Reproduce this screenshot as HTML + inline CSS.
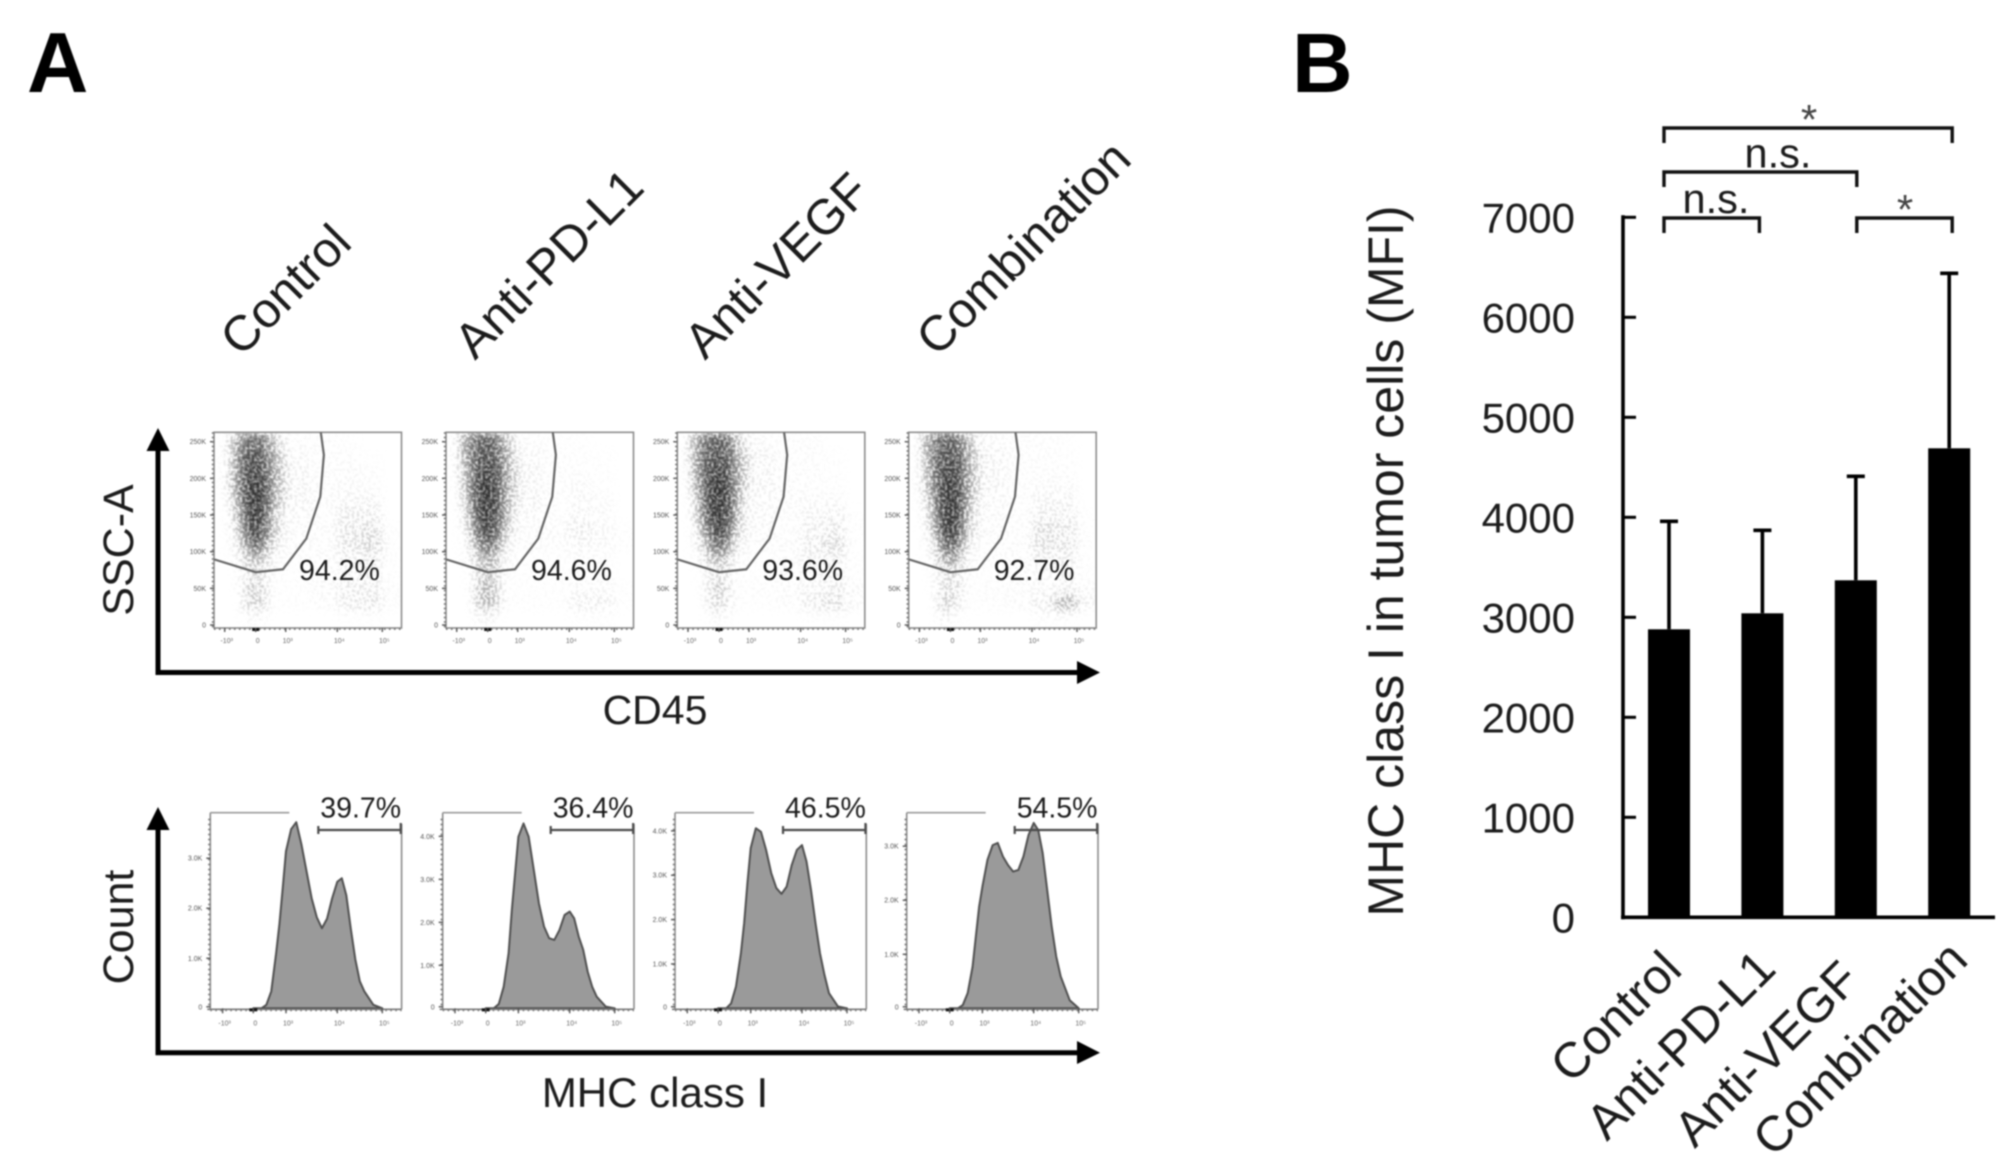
<!DOCTYPE html>
<html lang="en">
<head>
<meta charset="utf-8">
<title>MHC class I expression figure</title>
<style>
html,body{margin:0;padding:0;background:#fff;width:2014px;height:1167px;overflow:hidden}
svg{display:block;filter:blur(0.75px)}
text{font-family:"Liberation Sans",Arial,sans-serif;fill:#1c1c1c}
</style>
</head>
<body>
<svg id="figure" xmlns="http://www.w3.org/2000/svg" width="2014" height="1167" viewBox="0 0 2014 1167">
  <defs>
    <filter id="speckle1" filterUnits="userSpaceOnUse" x="0" y="400" width="1200" height="260" color-interpolation-filters="sRGB">
      <feGaussianBlur in="SourceAlpha" stdDeviation="4.5" result="dens"/>
      <feTurbulence type="fractalNoise" baseFrequency="0.42" numOctaves="1" seed="3"/>
      <feColorMatrix values="0 0 0 0 0 0 0 0 0 0 0 0 0 0 0 1.7 0 0 0 0" result="noise"/>
      <feComposite in="dens" in2="noise" operator="arithmetic" k1="0" k2="1" k3="1" k4="-1"/>
      <feGaussianBlur stdDeviation="0.5"/>
    </filter>
  </defs>
  <rect x="0" y="0" width="2014" height="1167" fill="#fff"/>

  <text x="27" y="92" font-size="85" font-weight="700" style="fill:#000">A</text>
  <text x="1292" y="92" font-size="84" font-weight="700" style="fill:#000">B</text>

  <g font-size="49.5">
    <text transform="translate(241 358) rotate(-45)">Control</text>
    <text transform="translate(475 361) rotate(-45)">Anti-PD-L1</text>
    <text transform="translate(705 361) rotate(-45)">Anti-VEGF</text>
    <text transform="translate(937 358) rotate(-45)">Combination</text>
  </g>

  <g id="scatterRow"></g>
  <g id="histRow"></g>

  <g>
    <line x1="158" y1="445" x2="158" y2="675" stroke="#000" stroke-width="5"/>
    <polygon points="158,428 146.5,451 169.5,451" fill="#000"/>
    <line x1="155.5" y1="672.5" x2="1082" y2="672.5" stroke="#000" stroke-width="5"/>
    <polygon points="1100,672.5 1077,661 1077,684" fill="#000"/>
    <text x="655" y="724" font-size="41" text-anchor="middle">CD45</text>
    <text transform="translate(133 550) rotate(-90)" font-size="43" text-anchor="middle">SSC-A</text>
  </g>
  <g>
    <line x1="158" y1="824" x2="158" y2="1055" stroke="#000" stroke-width="5"/>
    <polygon points="158,807 146.5,830 169.5,830" fill="#000"/>
    <line x1="155.5" y1="1052.7" x2="1082" y2="1052.7" stroke="#000" stroke-width="5"/>
    <polygon points="1100,1052.7 1077,1041 1077,1064" fill="#000"/>
    <text x="655" y="1107" font-size="42" text-anchor="middle">MHC class I</text>
    <text transform="translate(133 927) rotate(-90)" font-size="43" text-anchor="middle">Count</text>
  </g>

  <g id="barChart"></g>
</svg>

<script>
/* ---------- Panel A: shared labels and axes ---------- */
const treatments = ["Control", "Anti-PD-L1", "Anti-VEGF", "Combination"];
const scatterPercents = ["94.2%", "94.6%", "93.6%", "92.7%"];
const histPercents = ["39.7%", "36.4%", "46.5%", "54.5%"];
const sscTickValues = [0, 50, 100, 150, 200, 250];
const sscTickLabels = ["0", "50K", "100K", "150K", "200K", "250K"];
const decadeTickValues = [-1, 0, 1, 2, 3];
const decadeTickLabels = ["-10\u00B3", "0", "10\u00B3", "10\u2074", "10\u2075"];

/* Gate vertices: CD45 decades and SSC-A (K) */
const gateCD45 = [-1.34, 0, 0.91, 1.4, 1.67, 1.74, 1.68];
const gateSSC = [89.5, 72, 76, 118, 175, 232, 262.7];

/* Density bins */
const densityColEdges = [-1.34, -1, -0.75, -0.5, -0.25, 0, 0.25, 0.5, 0.75, 1, 1.5, 2, 2.5, 3, 3.43];
const densityRowEdges = [262.7, 240, 220, 200, 180, 160, 140, 120, 100, 80, 60, 40, 20, 0];
const densityControl = [
 [0,1.5,4,6,6.5,6.5,5,3,1.5,.4,.3,.2,0,0],
 [.1,1.5,4.5,7,7.5,7.5,6,4,2.5,.6,.3,.3,.1,0],
 [.1,1.5,4.5,7,8,8,6.5,4,3,.8,.3,.5,.3,0],
 [.1,1.5,4.5,7,8.5,8.5,7,4,3,.8,.4,.5,.3,0],
 [0,1,3.5,7,8.5,8.5,7,4,2.5,.8,.4,.8,.8,0],
 [0,.6,3,6,8.5,8.5,6,3,1.5,.6,.4,1.2,1.2,0],
 [0,.4,2,5.5,8,8,5.5,3,1.5,.4,.4,1.5,1.8,.2],
 [0,.3,1,4,6.5,6.5,4,1.8,.8,.4,.4,1.5,2.2,.2],
 [0,.2,.5,2,3.5,3.5,2,.6,.4,.3,.4,1,1.2,.2],
 [0,0,.2,1,2,2,1,.3,.2,.2,.4,.7,.8,.2],
 [0,0,.2,1.5,2.5,2.5,1.2,.2,.2,.2,.5,1.2,1.2,.3],
 [0,0,0,1.5,2.5,2.5,1.2,.2,.2,.2,.4,1.2,1.5,.3],
 [0,0,0,.3,.6,.6,.2,0,0,0,0,.2,.2,0]
];
const densityAntiPDL1 = [
 [.1,3,5,6.5,7,7,5.5,3.5,1.5,.4,.2,.2,0,0],
 [.1,2.5,5,7,7.5,7.5,6.5,4,2.5,.6,.3,.2,.2,0],
 [.1,2,4.5,7,8,8,7,4,3,.8,.3,.3,.2,0],
 [.1,1.5,4.5,7.5,8.5,8.5,7,4,3,.8,.3,.5,.2,0],
 [0,1,4,7,8.5,8.5,7,4,2.5,.8,.3,.6,.4,0],
 [0,.6,3,7,8.5,8.5,6.5,4,1.5,.6,.3,.8,.5,0],
 [0,.4,2,6,8,8,6,3,1.2,.4,.5,1.1,.6,.2],
 [0,.2,1,4,6.5,6.5,4,1.5,.6,.4,.4,.8,.5,.2],
 [0,.2,.5,2.5,4,4,2.5,.5,.4,.2,.2,.3,.3,0],
 [0,0,.2,1.5,3,3,1.5,.3,.2,.2,.2,.3,.3,0],
 [0,0,.2,2,3.5,3.5,1.8,.2,.2,.2,.2,.5,.5,.2],
 [0,0,0,2,3.5,3.5,1.8,.2,.2,.2,.2,1,1,.2],
 [0,0,0,.5,.8,.8,.2,0,0,0,0,.2,.2,0]
];
const densityAntiVEGF = [
 [.1,3,5,6.5,7,7,5.5,3,1.5,.5,.3,.3,0,0],
 [.1,3,5.5,7,7.5,7.5,6.5,4,2.5,.8,.3,.3,.2,0],
 [.1,2.5,5.5,7.5,8,8,7,4,3,.8,.3,.3,.2,0],
 [.1,2,5,7.5,8.5,8.5,7,4,2.5,.8,.5,.3,.2,0],
 [0,1,4,7.5,8.5,8.5,7,4,1.5,.6,.5,.5,.5,0],
 [0,.7,4,7,8.5,8.5,7,3,1.5,.6,.3,.8,1,.2],
 [0,.4,2.5,6,8,8,6,2.5,1.1,.5,.3,1,1.3,.2],
 [0,.2,1.5,4,6.5,6.5,4,1.5,.6,.4,.4,1.2,2,.2],
 [0,.2,.5,2.5,3.5,3.5,2,.5,.4,.2,.4,1,1.2,.2],
 [0,0,.2,.8,1.8,1.8,.8,.3,.2,.2,.4,.5,.5,.2],
 [0,0,.2,1.2,2.5,2.5,1,.2,.2,.3,.4,.8,1.2,.5],
 [0,0,0,1,2,2,1,.2,.2,.2,.4,1.2,1.8,.5],
 [0,0,0,.2,.5,.5,.2,0,0,0,0,.2,.2,0]
];
const densityCombination = [
 [.1,3,5,6.5,7,7,5.5,3.5,1.5,.5,.3,.3,.2,0],
 [.1,2.5,5,7,7.5,7.5,6.5,4,2.5,.8,.3,.3,.2,0],
 [.1,2,5,7,8,8.5,6.5,4,2.5,.8,.3,.3,.3,0],
 [.1,2,4.5,7,8.5,8.5,6.5,4,2.5,.8,.3,.5,.5,0],
 [0,1,3.5,7,8.5,8.5,7,4,1.5,.6,.3,.8,.8,0],
 [0,.6,3,7,8.5,8.5,6.5,3,1.5,.5,.3,1.1,1.1,.2],
 [0,.4,2,6,8.5,8.5,6,2.5,1.2,.5,.3,1.8,1.5,.2],
 [0,.2,1,4,7,7,4,1.5,.6,.3,.4,1.8,1.6,.2],
 [0,.2,.5,2.5,4.5,4.5,2.5,.5,.4,.3,.4,1,1.1,.2],
 [0,0,.2,1,2,2,1.1,.3,.2,.2,.4,.5,.6,.2],
 [0,0,.2,1.2,2.2,2.2,1.2,.2,.2,.3,.4,.6,1.1,.5],
 [0,0,0,1.5,2.8,1.8,.8,.2,.2,.3,.4,1.2,3.5,.9],
 [0,0,0,.5,.9,.4,.2,0,0,0,0,.3,.3,0]
];
const scatterDensities = [densityControl, densityAntiPDL1, densityAntiVEGF, densityCombination];

/* Histogram series: MHC class I decades and counts (thousands) */
const histDecades = [0, .25, .4, .55, .7, .8, .9, 1, 1.1, 1.2, 1.3, 1.4, 1.5, 1.6, 1.7, 1.8, 1.9, 2, 2.1, 2.2, 2.3, 2.4, 2.5, 2.6, 2.8, 3];
const histControl = [0, 0, .07, .34, 1.11, 1.69, 2.4, 3.14, 3.58, 3.72, 3.28, 2.74, 2.2, 1.82, 1.6, 1.79, 2.2, 2.53, 2.6, 2.26, 1.59, .98, .54, .34, .07, 0];
const histAntiPDL1 = [0, 0, .1, .5, 1.28, 2.29, 3.14, 3.99, 4.3, 3.99, 3.22, 2.44, 1.9, 1.63, 1.59, 1.82, 2.17, 2.25, 2.09, 1.67, 1.36, .85, .5, .27, .04, 0];
const histAntiVEGF = [0, 0, .11, .49, 1.24, 1.92, 2.82, 3.61, 4.06, 3.98, 3.57, 3.05, 2.71, 2.58, 2.74, 3.23, 3.57, 3.68, 3.31, 2.67, 1.92, 1.24, .75, .34, .04, 0];
const histCombination = [0, 0, .06, .28, .77, 1.33, 1.88, 2.25, 2.75, 3.02, 3.06, 2.81, 2.65, 2.53, 2.56, 2.81, 3.21, 3.43, 3.3, 2.87, 2.19, 1.51, .96, .59, .15, 0];
const histSeries = [histControl, histAntiPDL1, histAntiVEGF, histCombination];
const histYMax = [3.91, 4.55, 4.41, 3.62];
const histTickValues = [[0, 1, 2, 3], [0, 1, 2, 3, 4], [0, 1, 2, 3, 4], [0, 1, 2, 3]];
const histTickLabels = [["0", "1.0K", "2.0K", "3.0K"], ["0", "1.0K", "2.0K", "3.0K", "4.0K"], ["0", "1.0K", "2.0K", "3.0K", "4.0K"], ["0", "1.0K", "2.0K", "3.0K"]];
const histGateDecades = [1.63, 3.41];

/* ---------- Panel B data ---------- */
const barCategories = ["Control", "Anti-PD-L1", "Anti-VEGF", "Combination"];
const barMeans = [2880, 3040, 3370, 4690];
const barErrorTops = [3960, 3870, 4410, 6440];
const barYTicks = [0, 1000, 2000, 3000, 4000, 5000, 6000, 7000];
const sigLabels = ["*", "n.s.", "n.s.", "*"];

/* ---------- Helpers ---------- */
const NS = "http://www.w3.org/2000/svg";
function make(parent, tag, props, txt) {
  const e = document.createElementNS(NS, tag);
  for (const k in props) e.setAttribute(k, props[k]);
  if (txt !== undefined) e.textContent = txt;
  parent.appendChild(e);
  return e;
}
function piecewise(stops, px) {
  return function (v) {
    let i = 0;
    while (i < stops.length - 2 && v > stops[i + 1]) i++;
    return px[i] + (v - stops[i]) * (px[i + 1] - px[i]) / (stops[i + 1] - stops[i]);
  };
}
const DEC_STOPS = [-1, 0, 1, 2, 3];

/* ---------- Scatter panels ---------- */
const scatterLefts = [214, 446, 677.3, 908.7];
const SC_W = 187.5, SC_TOP = 432.3, SC_BOT = 628;
const scatterRow = document.getElementById("scatterRow");
const scatterRelX = piecewise(DEC_STOPS, [10.7, 41.7, 71.7, 123.3, 168.3]);
const sscY = v => 625 - v * 0.7332;

treatments.forEach(function (name, p) {
  const left = scatterLefts[p];
  const sx = v => left + scatterRelX(v);
  const g = make(scatterRow, "g", {});
  
  

  const clipId = "clipS" + p;
  const clip = make(g, "clipPath", { id: clipId });
  make(clip, "rect", { x: left, y: SC_TOP, width: SC_W, height: SC_BOT - SC_TOP });

  const holder = make(g, "g", { "clip-path": "url(#" + clipId + ")" });
  const dens = make(holder, "g", { filter: "url(#speckle1)" });
  
  
  scatterDensities[p].forEach(function (row, r) {
    row.forEach(function (d, c) {
      if (d <= 0) return;
      const x0 = sx(densityColEdges[c]), x1 = sx(densityColEdges[c + 1]);
      const y0 = sscY(densityRowEdges[r]), y1 = sscY(densityRowEdges[r + 1]);
      const cell = make(dens, "rect", { x: x0, y: y0, width: x1 - x0, height: y1 - y0, fill: "#000", "fill-opacity": Math.min(1, d / 10) });
      
      
    });
  });

  const frame = make(g, "rect", { x: left, y: SC_TOP, width: SC_W, height: SC_BOT - SC_TOP, fill: "none", stroke: "#8c8c8c", "stroke-width": 1.6 });
  
  

  const gate = make(g, "polyline", {
    points: gateCD45.map((v, i) => sx(v) + "," + sscY(gateSSC[i])).join(" "),
    fill: "none", stroke: "#666", "stroke-width": 2.2
  });
  
  

  sscTickValues.forEach(function (v, i) {
    make(g, "line", { x1: left - 4, x2: left, y1: sscY(v), y2: sscY(v), stroke: "#555", "stroke-width": 1.4 });
    const t = make(g, "text", { x: left - 8, y: sscY(v) + 2.5, "font-size": 7, "text-anchor": "end", style: "fill:#555" }, sscTickLabels[i]);
    
    
  });
  make(g, "line", { x1: left - 1, x2: left - 1, y1: SC_TOP, y2: SC_BOT, stroke: "#777", "stroke-width": 2.4, "stroke-dasharray": "1.5 3" });
  make(g, "line", { x1: left, x2: left + SC_W, y1: SC_BOT + 1, y2: SC_BOT + 1, stroke: "#777", "stroke-width": 2, "stroke-dasharray": "1.5 3.5" });
  make(g, "rect", { x: sx(0) - 3.5, y: SC_BOT, width: 7, height: 3, fill: "#111" });
  decadeTickValues.forEach(function (v, i) {
    make(g, "line", { x1: sx(v), x2: sx(v), y1: SC_BOT, y2: SC_BOT + 4, stroke: "#555", "stroke-width": 1.4 });
    const t = make(g, "text", { x: sx(v) + 2, y: SC_BOT + 15, "font-size": 7, "text-anchor": "middle", style: "fill:#666" }, decadeTickLabels[i]);
    
    
  });

  const pct = make(g, "text", { x: left + 85, y: 580, "font-size": 28.5 }, scatterPercents[p]);
  
  
});

/* ---------- Histogram panels ---------- */
const histLefts = [210.3, 442.7, 675, 906.7];
const H_W = 191.3, H_TOP = 812.7, H_BASE = 1008.3;
const histRow = document.getElementById("histRow");
const histRelX = piecewise(DEC_STOPS, [12.3, 43, 75.7, 127, 172]);

treatments.forEach(function (name, p) {
  const left = histLefts[p];
  const hx = v => left + histRelX(v);
  const hy = v => H_BASE - v * (H_BASE - H_TOP) / histYMax[p];
  const g = make(histRow, "g", {});
  
  

  const pts = histDecades.map((d, i) => hx(d) + "," + hy(histSeries[p][i])).join(" ");
  const area = make(g, "polygon", { points: pts, fill: "#9a9a9a", stroke: "#505050", "stroke-width": 2, "stroke-linejoin": "round" });
  
  

  const top = make(g, "line", { x1: left, x2: left + 79, y1: H_TOP, y2: H_TOP, stroke: "#9a9a9a", "stroke-width": 1.6 });
  
  
  const lft = make(g, "line", { x1: left, x2: left, y1: H_TOP, y2: H_BASE + 1, stroke: "#8c8c8c", "stroke-width": 1.6 });
  
  
  const rgt = make(g, "line", { x1: left + H_W, x2: left + H_W, y1: 824, y2: H_BASE + 1, stroke: "#8c8c8c", "stroke-width": 1.6 });
  
  
  const bot = make(g, "line", { x1: left - 3, x2: left + H_W, y1: H_BASE + 1, y2: H_BASE + 1, stroke: "#777", "stroke-width": 1.6 });
  
  
  make(g, "line", { x1: left - 1, x2: left - 1, y1: H_TOP + 6, y2: H_BASE, stroke: "#777", "stroke-width": 2.4, "stroke-dasharray": "1.5 3.5" });
  make(g, "line", { x1: left, x2: left + H_W, y1: H_BASE + 2, y2: H_BASE + 2, stroke: "#777", "stroke-width": 2, "stroke-dasharray": "1.5 3.5" });
  make(g, "rect", { x: hx(0) - 4, y: H_BASE, width: 8, height: 3, fill: "#111" });

  histTickValues[p].forEach(function (v, i) {
    const offset = v === 0 ? -1.5 : 0;
    make(g, "line", { x1: left - 4, x2: left, y1: hy(v) + offset, y2: hy(v) + offset, stroke: "#555", "stroke-width": 1.4 });
    const t = make(g, "text", { x: left - 8, y: hy(v) + 2.5 + offset, "font-size": 7, "text-anchor": "end", style: "fill:#555" }, histTickLabels[p][i]);
    
    
  });
  decadeTickValues.forEach(function (v, i) {
    make(g, "line", { x1: hx(v), x2: hx(v), y1: H_BASE, y2: H_BASE + 5, stroke: "#555", "stroke-width": 1.4 });
    const t = make(g, "text", { x: hx(v) + 2, y: H_BASE + 17, "font-size": 7, "text-anchor": "middle", style: "fill:#666" }, decadeTickLabels[i]);
    
    
  });

  const gx0 = hx(histGateDecades[0]), gx1 = hx(histGateDecades[1]);
  const gateG = make(g, "g", { stroke: "#4a4a4a", "stroke-width": 2.2 });
  
  
  make(gateG, "line", { x1: gx0, x2: gx1, y1: 830, y2: 830 });
  make(gateG, "line", { x1: gx0, x2: gx0, y1: 826, y2: 834 });
  make(gateG, "line", { x1: gx1, x2: gx1, y1: 823, y2: 834 });

  const pct = make(g, "text", { x: left + 110, y: 817.3, "font-size": 28.5 }, histPercents[p]);
  
  
});

/* ---------- Panel B bar chart ---------- */
const bar = document.getElementById("barChart");
const barY = v => 917.3 - v * 0.1;
const barX = i => 1669 + i * 93.4;
const BAR_W = 42, AXIS_X = 1623;

barCategories.forEach(function (name, i) {
  const cx = barX(i);
  const stem = make(bar, "line", { x1: cx, x2: cx, y1: barY(barErrorTops[i]), y2: barY(barMeans[i]), stroke: "#000", "stroke-width": 3.6 });
  
  
  const cap = make(bar, "line", { x1: cx - 9, x2: cx + 9, y1: barY(barErrorTops[i]), y2: barY(barErrorTops[i]), stroke: "#000", "stroke-width": 3.6 });
  
  
  const rect = make(bar, "rect", { x: cx - BAR_W / 2, y: barY(barMeans[i]), width: BAR_W, height: barY(0) - barY(barMeans[i]), fill: "#000" });
  
  
});

const yAxisLine = make(bar, "line", { x1: AXIS_X, x2: AXIS_X, y1: barY(7000) - 2, y2: barY(0) + 2, stroke: "#000", "stroke-width": 3.6 });


const xAxisLine = make(bar, "line", { x1: AXIS_X - 2, x2: 1995, y1: barY(0), y2: barY(0), stroke: "#000", "stroke-width": 3.6 });



barYTicks.forEach(function (v) {
  if (v > 0) {
    const tick = make(bar, "line", { x1: AXIS_X, x2: AXIS_X + 13, y1: barY(v), y2: barY(v), stroke: "#000", "stroke-width": 3 });
    
    
  }
  const t = make(bar, "text", { x: 1575, y: barY(v) + 15, "font-size": 42, "text-anchor": "end" }, String(v));
  
  
});

const yTitle = make(bar, "text", { transform: "translate(1403 561) rotate(-90)", "font-size": 50, "text-anchor": "middle" }, "MHC class I in tumor cells (MFI)");



const xLabelAnchors = [[1684, 972], [1778, 971], [1862, 982], [1970, 962]];
barCategories.forEach(function (name, i) {
  const t = make(bar, "text", { transform: "translate(" + xLabelAnchors[i][0] + " " + xLabelAnchors[i][1] + ") rotate(-45)", "font-size": 49.5, "text-anchor": "end" }, name);
  
  
});

/* significance brackets: category index pairs */
const sigFrom = [0, 0, 0, 2];
const sigTo = [3, 2, 1, 3];
const sigHeights = [128, 172, 218, 218];
const sigTextX = [1809, 1778, 1716, 1905];
const sigTextY = [134, 167.7, 213, 224];
sigFrom.forEach(function (from, i) {
  const x0 = barX(from) + (from === 2 ? 1 : -5), x1 = barX(sigTo[i]) + (sigTo[i] === 3 ? 3 : sigTo[i] === 1 ? -3 : 1);
  const y = sigHeights[i];
  const b = make(bar, "polyline", { points: x0 + "," + (y + 15) + " " + x0 + "," + y + " " + x1 + "," + y + " " + x1 + "," + (y + 15), fill: "none", stroke: "#111", "stroke-width": 3.4 });
  
  
  const isStar = sigLabels[i] === "*";
  const t = make(bar, "text", { x: sigTextX[i], y: sigTextY[i], "font-size": isStar ? 42 : 41.5, "text-anchor": "middle", style: isStar ? "fill:#444" : "" }, sigLabels[i]);
  
  
});
</script>
</body>
</html>
